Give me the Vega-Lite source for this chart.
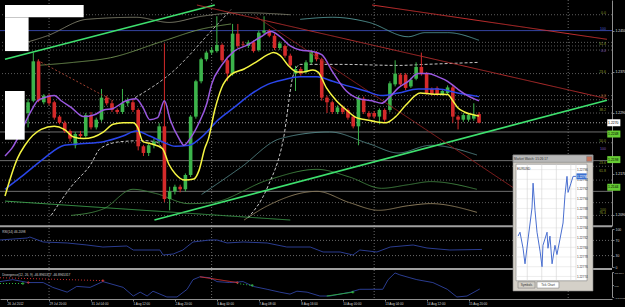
{
"$schema": "https://vega.github.io/schema/vega-lite/v6.json",
"width": 612, "height": 299,
"autosize": {"type": "none"},
"padding": {"left": 0, "top": 0, "right": 13, "bottom": 8},
"background": "#000000",
"config": {"view": {"stroke": null}, "axis": {"labelFont": "Liberation Sans", "grid": false}, "text": {"font": "Liberation Sans"}},
"datasets": {
"vsep": [{"i": 8}, {"i": 39}, {"i": 70}, {"i": 107}],
"hl": [
{"p": 1.2481, "kind": "dot"}, {"p": 1.2427, "kind": "dot"}, {"p": 1.2420, "kind": "dot"}, {"p": 1.2412, "kind": "dot"},
{"p": 1.2366, "kind": "dot"}, {"p": 1.2323, "kind": "dot"}, {"p": 1.2315, "kind": "dot"}, {"p": 1.2302, "kind": "dot"},
{"p": 1.2289, "kind": "dot"}, {"p": 1.2231, "kind": "dot"}, {"p": 1.2185, "kind": "dot"}, {"p": 1.2158, "kind": "dot"},
{"p": 1.2114, "kind": "dot"}, {"p": 1.2089, "kind": "dot"},
{"p": 1.2252, "kind": "solid"}, {"p": 1.2196, "kind": "solid"}, {"p": 1.2136, "kind": "solid"},
{"p": 1.2450, "kind": "blue"}, {"p": 1.2270, "kind": "cur"}],
"curves": [
{"k":"gu","i":-0.4,"p":1.2416},{"k":"gu","i":7.7,"p":1.2440},{"k":"gu","i":15.2,"p":1.2472},{"k":"gu","i":24.6,"p":1.2476},{"k":"gu","i":30.9,"p":1.2466},{"k":"gu","i":37.1,"p":1.2478},{"k":"gu","i":44.6,"p":1.2485},{"k":"gu","i":54.0,"p":1.2481},
{"k":"om","i":5.8,"p":1.2382},{"k":"om","i":12.7,"p":1.2388},{"k":"om","i":19.7,"p":1.2397},{"k":"om","i":29.6,"p":1.2429},{"k":"om","i":37.1,"p":1.2453},{"k":"om","i":42.7,"p":1.2463},
{"k":"tu","i":55.9,"p":1.2472},{"k":"tu","i":62.1,"p":1.2476},{"k":"tu","i":69.0,"p":1.2466},{"k":"tu","i":76.5,"p":1.2438},{"k":"tu","i":79.7,"p":1.2446},{"k":"tu","i":84.0,"p":1.2446},{"k":"tu","i":90.0,"p":1.2431},
{"k":"dg","i":12.2,"p":1.2089},{"k":"dg","i":18.4,"p":1.2102},{"k":"dg","i":24.0,"p":1.2140},{"k":"dg","i":28.3,"p":1.2132},{"k":"dg","i":34.7,"p":1.2112},{"k":"dg","i":39.0,"p":1.2114},{"k":"dg","i":49.7,"p":1.2158},{"k":"dg","i":59.1,"p":1.2179},{"k":"dg","i":65.3,"p":1.2164},{"k":"dg","i":71.4,"p":1.2142},{"k":"dg","i":76.5,"p":1.2149},{"k":"dg","i":80.8,"p":1.2155},{"k":"dg","i":89.6,"p":1.2140},
{"k":"tn","i":45.2,"p":1.2080},{"k":"tn","i":49.7,"p":1.2108},{"k":"tn","i":59.1,"p":1.2136},{"k":"tn","i":65.3,"p":1.2114},{"k":"tn","i":70.9,"p":1.2099},{"k":"tn","i":76.5,"p":1.2108},{"k":"tn","i":80.8,"p":1.2112},{"k":"tn","i":89.6,"p":1.2095},
{"k":"tl","i":37.1,"p":1.2130},{"k":"tl","i":44.6,"p":1.2183},{"k":"tl","i":52.1,"p":1.2239},{"k":"tl","i":61.5,"p":1.2252},{"k":"tl","i":69.0,"p":1.2229},{"k":"tl","i":74.6,"p":1.2211},{"k":"tl","i":80.8,"p":1.2226},{"k":"tl","i":89.6,"p":1.2207},
{"k":"d1","i":8.4,"p":1.2089},{"k":"d1","i":12.2,"p":1.2145},{"k":"d1","i":15.9,"p":1.2188},{"k":"d1","i":17.8,"p":1.2220},{"k":"d1","i":21.6,"p":1.2233},{"k":"d1","i":25.9,"p":1.2235},{"k":"d1","i":28.3,"p":1.2233},{"k":"d1","i":29.6,"p":1.2220},
{"k":"d2","i":24.4,"p":1.2319},{"k":"d2","i":31.5,"p":1.2369},{"k":"d2","i":39.0,"p":1.2450},{"k":"d2","i":42.7,"p":1.2491},
{"k":"d3","i":45.9,"p":1.2084},{"k":"d3","i":49.7,"p":1.2145},{"k":"d3","i":52.7,"p":1.2239},{"k":"d3","i":54.6,"p":1.2364},{"k":"d3","i":55.9,"p":1.2384},{"k":"d3","i":63.9,"p":1.2384},{"k":"d3","i":74.6,"p":1.2382},{"k":"d3","i":79.7,"p":1.2384},{"k":"d3","i":90.0,"p":1.2388}],
"candles": [
{"i":4,"o":1.2289,"h":1.2317,"l":1.2261,"c":1.2310},{"i":5,"o":1.2313,"h":1.2407,"l":1.2310,"c":1.2390},{"i":6,"o":1.2390,"h":1.2394,"l":1.2310,"c":1.2313},{"i":7,"o":1.2310,"h":1.2326,"l":1.2306,"c":1.2323},
{"i":8,"o":1.2323,"h":1.2326,"l":1.2304,"c":1.2308},{"i":9,"o":1.2310,"h":1.2313,"l":1.2276,"c":1.2280},{"i":10,"o":1.2282,"h":1.2285,"l":1.2267,"c":1.2270},{"i":11,"o":1.2270,"h":1.2274,"l":1.2250,"c":1.2254},
{"i":12,"o":1.2254,"h":1.2257,"l":1.2233,"c":1.2239},{"i":13,"o":1.2226,"h":1.2252,"l":1.2220,"c":1.2248},{"i":14,"o":1.2248,"h":1.2254,"l":1.2239,"c":1.2244},{"i":15,"o":1.2244,"h":1.2289,"l":1.2241,"c":1.2285},
{"i":16,"o":1.2285,"h":1.2291,"l":1.2257,"c":1.2261},{"i":17,"o":1.2261,"h":1.2280,"l":1.2257,"c":1.2276},{"i":18,"o":1.2276,"h":1.2336,"l":1.2272,"c":1.2319},{"i":19,"o":1.2319,"h":1.2323,"l":1.2304,"c":1.2308},
{"i":20,"o":1.2308,"h":1.2313,"l":1.2291,"c":1.2295},{"i":21,"o":1.2295,"h":1.2298,"l":1.2287,"c":1.2291},{"i":22,"o":1.2291,"h":1.2336,"l":1.2287,"c":1.2308},{"i":23,"o":1.2308,"h":1.2319,"l":1.2302,"c":1.2313},
{"i":24,"o":1.2310,"h":1.2317,"l":1.2291,"c":1.2295},{"i":25,"o":1.2295,"h":1.2298,"l":1.2216,"c":1.2224},{"i":26,"o":1.2224,"h":1.2227,"l":1.2205,"c":1.2211},{"i":27,"o":1.2211,"h":1.2229,"l":1.2205,"c":1.2226},
{"i":28,"o":1.2226,"h":1.2239,"l":1.2220,"c":1.2233},{"i":29,"o":1.2233,"h":1.2269,"l":1.2229,"c":1.2263},{"i":30,"o":1.2263,"h":1.2425,"l":1.2115,"c":1.2121},{"i":31,"o":1.2121,"h":1.2145,"l":1.2099,"c":1.2136},
{"i":32,"o":1.2136,"h":1.2149,"l":1.2130,"c":1.2145},{"i":33,"o":1.2145,"h":1.2149,"l":1.2134,"c":1.2140},{"i":34,"o":1.2140,"h":1.2171,"l":1.2136,"c":1.2168},{"i":35,"o":1.2168,"h":1.2285,"l":1.2164,"c":1.2282},
{"i":36,"o":1.2282,"h":1.2354,"l":1.2278,"c":1.2351},{"i":37,"o":1.2351,"h":1.2397,"l":1.2347,"c":1.2394},{"i":38,"o":1.2394,"h":1.2410,"l":1.2390,"c":1.2407},{"i":39,"o":1.2407,"h":1.2418,"l":1.2403,"c":1.2412},
{"i":40,"o":1.2410,"h":1.2478,"l":1.2407,"c":1.2422},{"i":41,"o":1.2422,"h":1.2425,"l":1.2388,"c":1.2392},{"i":42,"o":1.2392,"h":1.2395,"l":1.2351,"c":1.2366},{"i":43,"o":1.2366,"h":1.2463,"l":1.2362,"c":1.2444},
{"i":44,"o":1.2444,"h":1.2463,"l":1.2416,"c":1.2420},{"i":45,"o":1.2423,"h":1.2429,"l":1.2418,"c":1.2422},{"i":46,"o":1.2420,"h":1.2431,"l":1.2416,"c":1.2427},{"i":47,"o":1.2427,"h":1.2431,"l":1.2407,"c":1.2410},
{"i":48,"o":1.2412,"h":1.2450,"l":1.2409,"c":1.2446},{"i":49,"o":1.2446,"h":1.2478,"l":1.2442,"c":1.2450},{"i":50,"o":1.2450,"h":1.2453,"l":1.2437,"c":1.2440},{"i":51,"o":1.2440,"h":1.2444,"l":1.2412,"c":1.2416},
{"i":52,"o":1.2416,"h":1.2429,"l":1.2412,"c":1.2425},{"i":53,"o":1.2420,"h":1.2423,"l":1.2397,"c":1.2401},{"i":54,"o":1.2401,"h":1.2405,"l":1.2379,"c":1.2382},{"i":55,"o":1.2366,"h":1.2381,"l":1.2332,"c":1.2375},
{"i":56,"o":1.2375,"h":1.2379,"l":1.2362,"c":1.2366},{"i":57,"o":1.2369,"h":1.2392,"l":1.2366,"c":1.2388},{"i":58,"o":1.2388,"h":1.2412,"l":1.2384,"c":1.2409},{"i":59,"o":1.2407,"h":1.2410,"l":1.2390,"c":1.2394},
{"i":60,"o":1.2394,"h":1.2397,"l":1.2313,"c":1.2319},{"i":61,"o":1.2319,"h":1.2323,"l":1.2289,"c":1.2310},{"i":62,"o":1.2310,"h":1.2313,"l":1.2287,"c":1.2291},{"i":63,"o":1.2291,"h":1.2304,"l":1.2287,"c":1.2300},
{"i":64,"o":1.2300,"h":1.2304,"l":1.2287,"c":1.2291},{"i":65,"o":1.2295,"h":1.2298,"l":1.2276,"c":1.2280},{"i":66,"o":1.2282,"h":1.2285,"l":1.2259,"c":1.2263},{"i":67,"o":1.2263,"h":1.2323,"l":1.2226,"c":1.2319},
{"i":68,"o":1.2317,"h":1.2321,"l":1.2287,"c":1.2291},{"i":69,"o":1.2289,"h":1.2293,"l":1.2278,"c":1.2282},{"i":70,"o":1.2289,"h":1.2293,"l":1.2278,"c":1.2282},{"i":71,"o":1.2282,"h":1.2298,"l":1.2267,"c":1.2295},
{"i":72,"o":1.2295,"h":1.2298,"l":1.2272,"c":1.2276},{"i":73,"o":1.2295,"h":1.2351,"l":1.2291,"c":1.2347},{"i":74,"o":1.2345,"h":1.2392,"l":1.2341,"c":1.2366},{"i":75,"o":1.2364,"h":1.2367,"l":1.2341,"c":1.2345},
{"i":76,"o":1.2364,"h":1.2367,"l":1.2334,"c":1.2338},{"i":77,"o":1.2341,"h":1.2358,"l":1.2338,"c":1.2354},{"i":78,"o":1.2356,"h":1.2388,"l":1.2353,"c":1.2379},{"i":79,"o":1.2379,"h":1.2407,"l":1.2362,"c":1.2366},
{"i":80,"o":1.2366,"h":1.2369,"l":1.2325,"c":1.2328},{"i":81,"o":1.2336,"h":1.2339,"l":1.2323,"c":1.2326},{"i":82,"o":1.2338,"h":1.2341,"l":1.2323,"c":1.2326},{"i":83,"o":1.2326,"h":1.2336,"l":1.2323,"c":1.2332},
{"i":84,"o":1.2328,"h":1.2343,"l":1.2325,"c":1.2339},{"i":85,"o":1.2339,"h":1.2343,"l":1.2270,"c":1.2282},{"i":86,"o":1.2282,"h":1.2285,"l":1.2257,"c":1.2276},{"i":87,"o":1.2276,"h":1.2289,"l":1.2272,"c":1.2285},
{"i":88,"o":1.2276,"h":1.2289,"l":1.2272,"c":1.2285},{"i":89,"o":1.2278,"h":1.2308,"l":1.2274,"c":1.2285},{"i":90,"o":1.2287,"h":1.2291,"l":1.2269,"c":1.2270}],
"tl": [
{"k":"gU","i":-0.4,"p":1.2394},{"k":"gU","i":39.6,"p":1.2500},
{"k":"gL","i":28.1,"p":1.2080},{"k":"gL","i":114.4,"p":1.2314},
{"k":"gM","i":-0.4,"p":1.2117},{"k":"gM","i":54.0,"p":1.2080},
{"k":"rT","i":69.6,"p":1.2500},{"k":"rT","i":114.4,"p":1.2433},
{"k":"rM","i":36.2,"p":1.2500},{"k":"rM","i":114.4,"p":1.2317},
{"k":"rS","i":47.4,"p":1.2478},{"k":"rS","i":105.8,"p":1.2080},
{"k":"rD","i":5.8,"p":1.2392},{"k":"rD","i":20.2,"p":1.2313}],
"ma": [
{"k":"b","i":-0.4,"p":1.2140},{"k":"b","i":3.4,"p":1.2170},{"k":"b","i":7.1,"p":1.2201},{"k":"b","i":10.9,"p":1.2226},{"k":"b","i":14.0,"p":1.2229},{"k":"b","i":18.4,"p":1.2233},{"k":"b","i":22.1,"p":1.2244},{"k":"b","i":24.6,"p":1.2254},{"k":"b","i":27.2,"p":1.2244},{"k":"b","i":29.6,"p":1.2233},{"k":"b","i":32.1,"p":1.2224},{"k":"b","i":34.7,"p":1.2226},{"k":"b","i":37.1,"p":1.2242},{"k":"b","i":40.3,"p":1.2276},{"k":"b","i":43.3,"p":1.2300},{"k":"b","i":46.5,"p":1.2326},{"k":"b","i":49.7,"p":1.2345},{"k":"b","i":52.7,"p":1.2354},{"k":"b","i":55.9,"p":1.2360},{"k":"b","i":59.1,"p":1.2360},{"k":"b","i":62.1,"p":1.2351},{"k":"b","i":65.3,"p":1.2341},{"k":"b","i":68.4,"p":1.2332},{"k":"b","i":71.4,"p":1.2323},{"k":"b","i":74.6,"p":1.2328},{"k":"b","i":78.4,"p":1.2336},{"k":"b","i":82.1,"p":1.2336},{"k":"b","i":85.9,"p":1.2328},{"k":"b","i":90.0,"p":1.2321},
{"k":"v","i":-0.4,"p":1.2205},{"k":"v","i":0.9,"p":1.2220},{"k":"v","i":4.7,"p":1.2295},{"k":"v","i":5.8,"p":1.2313},{"k":"v","i":7.1,"p":1.2319},{"k":"v","i":9.0,"p":1.2323},{"k":"v","i":10.3,"p":1.2313},{"k":"v","i":12.2,"p":1.2300},{"k":"v","i":14.6,"p":1.2282},{"k":"v","i":16.5,"p":1.2285},{"k":"v","i":18.4,"p":1.2295},{"k":"v","i":20.2,"p":1.2298},{"k":"v","i":22.7,"p":1.2313},{"k":"v","i":24.6,"p":1.2317},{"k":"v","i":25.9,"p":1.2300},{"k":"v","i":27.2,"p":1.2276},{"k":"v","i":28.7,"p":1.2280},{"k":"v","i":30.0,"p":1.2313},{"k":"v","i":31.1,"p":1.2276},{"k":"v","i":32.8,"p":1.2239},{"k":"v","i":33.7,"p":1.2226},{"k":"v","i":34.9,"p":1.2239},{"k":"v","i":36.6,"p":1.2270},{"k":"v","i":38.1,"p":1.2308},{"k":"v","i":39.0,"p":1.2345},{"k":"v","i":40.9,"p":1.2382},{"k":"v","i":43.3,"p":1.2410},{"k":"v","i":45.9,"p":1.2422},{"k":"v","i":48.4,"p":1.2438},{"k":"v","i":50.3,"p":1.2448},{"k":"v","i":52.1,"p":1.2438},{"k":"v","i":54.0,"p":1.2420},{"k":"v","i":55.9,"p":1.2412},{"k":"v","i":58.3,"p":1.2409},{"k":"v","i":60.0,"p":1.2403},{"k":"v","i":62.1,"p":1.2369},{"k":"v","i":64.7,"p":1.2332},{"k":"v","i":67.1,"p":1.2317},{"k":"v","i":69.6,"p":1.2313},{"k":"v","i":71.4,"p":1.2308},{"k":"v","i":72.8,"p":1.2319},{"k":"v","i":74.6,"p":1.2338},{"k":"v","i":76.5,"p":1.2351},{"k":"v","i":78.4,"p":1.2366},{"k":"v","i":80.3,"p":1.2366},{"k":"v","i":82.1,"p":1.2360},{"k":"v","i":84.0,"p":1.2351},{"k":"v","i":85.9,"p":1.2336},{"k":"v","i":87.8,"p":1.2323},{"k":"v","i":90.0,"p":1.2313},
{"k":"y","i":-0.4,"p":1.2127},{"k":"y","i":2.0,"p":1.2201},{"k":"y","i":3.4,"p":1.2226},{"k":"y","i":6.5,"p":1.2257},{"k":"y","i":9.0,"p":1.2263},{"k":"y","i":10.9,"p":1.2257},{"k":"y","i":12.7,"p":1.2242},{"k":"y","i":14.6,"p":1.2239},{"k":"y","i":16.5,"p":1.2242},{"k":"y","i":18.4,"p":1.2252},{"k":"y","i":20.2,"p":1.2267},{"k":"y","i":22.1,"p":1.2270},{"k":"y","i":24.0,"p":1.2270},{"k":"y","i":24.9,"p":1.2261},{"k":"y","i":25.9,"p":1.2233},{"k":"y","i":27.4,"p":1.2229},{"k":"y","i":29.6,"p":1.2220},{"k":"y","i":30.9,"p":1.2188},{"k":"y","i":32.1,"p":1.2170},{"k":"y","i":33.9,"p":1.2158},{"k":"y","i":35.6,"p":1.2160},{"k":"y","i":36.6,"p":1.2177},{"k":"y","i":37.7,"p":1.2220},{"k":"y","i":38.4,"p":1.2239},{"k":"y","i":39.6,"p":1.2295},{"k":"y","i":40.9,"p":1.2338},{"k":"y","i":42.7,"p":1.2364},{"k":"y","i":45.2,"p":1.2375},{"k":"y","i":47.4,"p":1.2388},{"k":"y","i":49.7,"p":1.2403},{"k":"y","i":50.8,"p":1.2407},{"k":"y","i":52.1,"p":1.2401},{"k":"y","i":53.6,"p":1.2382},{"k":"y","i":55.3,"p":1.2369},{"k":"y","i":56.4,"p":1.2369},{"k":"y","i":58.3,"p":1.2373},{"k":"y","i":59.3,"p":1.2369},{"k":"y","i":60.9,"p":1.2338},{"k":"y","i":62.8,"p":1.2313},{"k":"y","i":64.7,"p":1.2295},{"k":"y","i":66.6,"p":1.2280},{"k":"y","i":68.4,"p":1.2276},{"k":"y","i":70.3,"p":1.2272},{"k":"y","i":72.2,"p":1.2270},{"k":"y","i":74.1,"p":1.2282},{"k":"y","i":76.0,"p":1.2304},{"k":"y","i":78.8,"p":1.2328},{"k":"y","i":80.8,"p":1.2326},{"k":"y","i":84.0,"p":1.2325},{"k":"y","i":85.0,"p":1.2313},{"k":"y","i":85.9,"p":1.2300},{"k":"y","i":87.2,"p":1.2291},{"k":"y","i":89.1,"p":1.2285},{"k":"y","i":90.0,"p":1.2283}],
"wbox": [{"i":-0.4,"i2":14.6,"p":1.2476,"p2":1.2500},{"i":-0.4,"i2":4.1,"p":1.2410,"p2":1.2476},{"i":-0.4,"i2":3.35,"p":1.2237,"p2":1.2332}],
"fl": [{"p":1.2481,"t":"0.0","g":"o"},{"p":1.2450,"t":"100","g":"b"},{"p":1.2420,"t":"61.8","g":"o"},{"p":1.2407,"t":"0.0","g":"v"},{"p":1.2366,"t":"23.6","g":"o"},{"p":1.2319,"t":"0.0","g":"r"},{"p":1.2291,"t":"38.2","g":"o"},{"p":1.2231,"t":"50.0","g":"o"},{"p":1.2214,"t":"100","g":"v"},{"p":1.2188,"t":"23.6","g":"o"},{"p":1.2171,"t":"61.8","g":"o"},{"p":1.2095,"t":"100","g":"o"},{"p":1.2089,"t":"76.4","g":"o"}],
"hlbox": [{"p":1.2270,"t":"1.2270","g":"w"},{"p":1.2248,"t":"1.2248","g":"g"},{"p":1.2198,"t":"1.2198","g":"g"},{"p":1.2144,"t":"1.2144","g":"g"}],
"rsi": [{"i":-0.4,"v":71.1},{"i":4.7,"v":76.3},{"i":5.2,"v":78.9},{"i":7.7,"v":65.8},{"i":12.2,"v":63.2},{"i":15.9,"v":57.9},{"i":18.9,"v":52.6},{"i":23.4,"v":55.3},{"i":24.6,"v":44.7},{"i":29.6,"v":44.7},{"i":30.2,"v":31.6},{"i":32.1,"v":34.2},{"i":33.9,"v":44.7},{"i":35.8,"v":65.8},{"i":39.0,"v":71.1},{"i":40.3,"v":71.1},{"i":42.2,"v":63.2},{"i":45.2,"v":65.8},{"i":49.7,"v":63.2},{"i":53.4,"v":52.6},{"i":57.8,"v":52.6},{"i":60.2,"v":39.5},{"i":63.4,"v":39.5},{"i":65.8,"v":31.6},{"i":67.1,"v":44.7},{"i":70.3,"v":39.5},{"i":72.8,"v":52.6},{"i":77.1,"v":57.9},{"i":79.7,"v":50.0},{"i":84.0,"v":44.7},{"i":90.0,"v":46.2}],
"dv": [{"i":-0.4,"v":43.7},{"i":2.0,"v":67.4},{"i":4.9,"v":31.9},{"i":7.7,"v":31.9},{"i":9.5,"v":-27.2},{"i":12.2,"v":-86.3},{"i":14.0,"v":-15.4},{"i":16.5,"v":-27.2},{"i":18.9,"v":43.7},{"i":20.8,"v":8.3},{"i":22.7,"v":-27.2},{"i":24.6,"v":-133.6},{"i":25.9,"v":-86.3},{"i":27.2,"v":-133.6},{"i":28.3,"v":-74.5},{"i":29.6,"v":-109.9},{"i":30.9,"v":-145.4},{"i":32.8,"v":-145.4},{"i":34.7,"v":-50.8},{"i":35.8,"v":67.4},{"i":37.1,"v":102.8},{"i":39.0,"v":91.0},{"i":40.3,"v":43.7},{"i":42.7,"v":31.9},{"i":45.2,"v":43.7},{"i":47.1,"v":-15.4},{"i":49.7,"v":-50.8},{"i":52.1,"v":-86.3},{"i":54.0,"v":-109.9},{"i":55.3,"v":-74.5},{"i":57.2,"v":-86.3},{"i":59.6,"v":-133.6},{"i":61.5,"v":-133.6},{"i":63.4,"v":-109.9},{"i":65.3,"v":-86.3},{"i":67.1,"v":-50.8},{"i":69.6,"v":-50.8},{"i":71.4,"v":-50.8},{"i":72.4,"v":67.4},{"i":73.7,"v":150.1},{"i":74.6,"v":126.5},{"i":76.5,"v":91.0},{"i":77.8,"v":67.4},{"i":80.8,"v":31.9},{"i":83.5,"v":-50.8},{"i":85.3,"v":-145.4},{"i":87.2,"v":-133.6},{"i":89.6,"v":-46.9}],
"dvseg": [{"k":"r1","i":-0.4,"v":91.0},{"k":"r1","i":18.9,"v":55.6},{"k":"r2","i":37.1,"v":102.8},{"k":"r2","i":44.1,"v":31.9},{"k":"g1","i":-0.4,"v":20.1},{"k":"g1","i":3.9,"v":20.1},{"k":"g2","i":44.1,"v":20.1},{"k":"g2","i":46.9,"v":-3.5},{"k":"g3","i":60.9,"v":-133.6},{"k":"g3","i":65.8,"v":-86.3}],
"dvmk": [{"k":"r","i":4.9,"v":31.9},{"k":"r","i":18.9,"v":55.6},{"k":"r","i":44.1,"v":31.9},{"k":"g","i":3.9,"v":20.1},{"k":"g","i":46.9,"v":-3.5},{"k":"g","i":65.8,"v":-86.3}],
"mwrect": [
{"part":"frame","t":-3.8,"t2":56.8,"q":1.22771,"q2":1.22799},
{"part":"title","t":-3.8,"t2":56.8,"q":1.227975,"q2":1.22799},
{"part":"close","t":52.0,"t2":56.0,"q":1.227977,"q2":1.227987},
{"part":"plot","t":-1.5,"t2":52.3,"q":1.227731,"q2":1.227971},
{"part":"tab1","t":0.0,"t2":12.9,"q":1.227716,"q2":1.227729},
{"part":"tab2","t":14.4,"t2":31.0,"q":1.227716,"q2":1.227729}],
"mwgrid": [{"q":1.22774,"s":"1.22774"},{"q":1.22776,"s":"1.22776"},{"q":1.22778,"s":"1.22778"},{"q":1.22780,"s":"1.22780"},{"q":1.22782,"s":"1.22782"},{"q":1.22784,"s":"1.22784"},{"q":1.22786,"s":"1.22786"},{"q":1.22788,"s":"1.22788"},{"q":1.22790,"s":"1.22790"},{"q":1.22792,"s":"1.22792"},{"q":1.22794,"s":"1.22794"},{"q":1.22796,"s":"1.22796"}],
"mwvgrid": [{"t":7},{"t":18},{"t":29},{"t":40},{"t":43.9}],
"ticks": [{"t":0.0,"q":1.227823},{"t":1.5,"q":1.227831},{"t":3.8,"q":1.227798},{"t":5.3,"q":1.227766},{"t":7.6,"q":1.227817},{"t":10.6,"q":1.227881},{"t":11.4,"q":1.227932},{"t":12.9,"q":1.227875},{"t":14.4,"q":1.227831},{"t":16.7,"q":1.227792},{"t":18.2,"q":1.22776},{"t":18.9,"q":1.227804},{"t":22.0,"q":1.227831},{"t":22.7,"q":1.227798},{"t":24.2,"q":1.227823},{"t":25.8,"q":1.227766},{"t":28.0,"q":1.227804},{"t":29.5,"q":1.227785},{"t":31.8,"q":1.227817},{"t":34.1,"q":1.22785},{"t":35.6,"q":1.227908},{"t":37.1,"q":1.227946},{"t":37.9,"q":1.227913},{"t":40.1,"q":1.227932},{"t":41.7,"q":1.227946},{"t":43.9,"q":1.227946}]
},
"resolve": {"scale": {"x": "independent", "y": "independent", "color": "independent", "strokeDash": "independent"}, "axis": {"x": "independent", "y": "independent"}},
"layer": [
{
"resolve": {"scale": {"color": "independent", "strokeDash": "independent"}},
"layer": [
{"data": {"name": "vsep"}, "mark": {"type": "rule", "color": "#6a6a6a", "strokeDash": [1, 2], "strokeWidth": 1},
 "encoding": {"x": {"field": "i", "type": "quantitative", "scale": {"domain": [-0.4, 114.4], "nice": false, "zero": false},
  "axis": {"orient": "bottom", "values": [0,4,8,12,16,20,24,28,32,36,40,44,48,52,56,60,64,68,72,76,80,84,88],
   "labelExpr": "['26 Jul 2012','27 Jul 08:00','29 Jul 20:00','30 Jul 12:00','31 Jul 04:00','31 Jul 20:00','1 Aug 12:00','2 Aug 04:00','2 Aug 20:00','3 Aug 12:00','6 Aug 00:00','6 Aug 16:00','7 Aug 08:00','8 Aug 00:00','8 Aug 16:00','9 Aug 08:00','10 Aug 00:00','10 Aug 16:00','13 Aug 04:00','13 Aug 20:00','14 Aug 12:00','15 Aug 04:00','15 Aug 20:00'][datum.value/4]",
   "labelAlign": "left", "labelFontSize": 3.1, "labelColor": "#d8d8d8", "labelPadding": 1, "tickSize": 2, "tickColor": "#808080", "domainColor": "#909090", "labelOverlap": false, "labelFlush": false, "labelBound": false, "title": null, "grid": false}}}},
{"data": {"name": "hl"}, "mark": {"type": "rule", "strokeWidth": 1},
 "encoding": {"y": {"field": "p", "type": "quantitative", "scale": {"domain": [1.20781, 1.25], "range": [226, 0], "nice": false, "zero": false},
  "axis": {"orient": "right", "values": [1.249,1.247,1.245,1.243,1.241,1.239,1.237,1.235,1.233,1.231,1.229,1.223,1.221,1.219,1.217,1.215,1.213,1.211,1.209], "format": ".4f",
   "labelFontSize": 3.4, "labelColor": "#e0e0e0", "labelPadding": 1, "tickSize": 2, "tickColor": "#808080", "domainColor": "#909090", "labelOverlap": false, "title": null, "grid": false}},
  "color": {"field": "kind", "type": "nominal", "scale": {"domain": ["dot","solid","blue","cur"], "range": ["#5c5c5c","#6e6e6e","#3444a0","#a0a0a0"]}, "legend": null},
  "strokeDash": {"field": "kind", "type": "nominal", "scale": {"domain": ["dot","solid","blue","cur"], "range": [[1,2],[1,0],[1,0],[1,2]]}, "legend": null}}},
{"data": {"name": "curves"}, "mark": {"type": "line", "strokeWidth": 1, "interpolate": "monotone", "clip": true},
 "encoding": {"x": {"field": "i", "type": "quantitative", "scale": {"domain": [-0.4, 114.4], "nice": false, "zero": false}},
  "y": {"field": "p", "type": "quantitative", "scale": {"domain": [1.20781, 1.25], "range": [226, 0], "nice": false, "zero": false}},
  "color": {"field": "k", "type": "nominal", "scale": {"domain": ["gu","om","tu","dg","tn","tl","d1","d2","d3"], "range": ["#7d7d6a","#6e8e50","#4f8f8f","#3f7f3f","#8a7a5a","#4f7f80","#c8c8c8","#b0b0b0","#c8c8c8"]}, "legend": null},
  "strokeDash": {"field": "k", "type": "nominal", "scale": {"domain": ["gu","om","tu","dg","tn","tl","d1","d2","d3"], "range": [[1,0],[1,0],[1,0],[1,0],[1,0],[1,0],[3,2],[3,2],[3,2]]}, "legend": null}}},
{"data": {"name": "candles"}, "mark": {"type": "rule", "strokeWidth": 1},
 "encoding": {"x": {"field": "i", "type": "quantitative", "scale": {"domain": [-0.4, 114.4], "nice": false, "zero": false}},
  "y": {"field": "l", "type": "quantitative", "scale": {"domain": [1.20781, 1.25], "range": [226, 0], "nice": false, "zero": false}},
  "y2": {"field": "h"},
  "color": {"condition": {"test": "datum.c >= datum.o", "value": "#3cb44b"}, "value": "#d42a2a"}}},
{"data": {"name": "candles"}, "mark": {"type": "bar", "size": 3.6, "orient": "vertical"},
 "encoding": {"x": {"field": "i", "type": "quantitative", "scale": {"domain": [-0.4, 114.4], "nice": false, "zero": false}},
  "y": {"field": "o", "type": "quantitative", "scale": {"domain": [1.20781, 1.25], "range": [226, 0], "nice": false, "zero": false}},
  "y2": {"field": "c"},
  "color": {"condition": {"test": "datum.c >= datum.o", "value": "#3cb44b"}, "value": "#d42a2a"}}},
{"data": {"name": "tl"}, "transform": [{"filter": "datum.k == 'gU' || datum.k == 'gL'"}], "mark": {"type": "line", "strokeWidth": 1.6, "color": "#3ee06e", "clip": true},
 "encoding": {"x": {"field": "i", "type": "quantitative", "scale": {"domain": [-0.4, 114.4], "nice": false, "zero": false}},
  "y": {"field": "p", "type": "quantitative", "scale": {"domain": [1.20781, 1.25], "range": [226, 0], "nice": false, "zero": false}},
  "detail": {"field": "k"}}},
{"data": {"name": "tl"}, "transform": [{"filter": "datum.k != 'gU' && datum.k != 'gL'"}], "mark": {"type": "line", "strokeWidth": 1, "clip": true},
 "encoding": {"x": {"field": "i", "type": "quantitative", "scale": {"domain": [-0.4, 114.4], "nice": false, "zero": false}},
  "y": {"field": "p", "type": "quantitative", "scale": {"domain": [1.20781, 1.25], "range": [226, 0], "nice": false, "zero": false}},
  "color": {"field": "k", "type": "nominal", "scale": {"domain": ["gM","rT","rM","rS","rD"], "range": ["#3a9a4a","#c83030","#b02c2c","#8c2020","#a04030"]}, "legend": null},
  "strokeDash": {"field": "k", "type": "nominal", "scale": {"domain": ["gM","rT","rM","rS","rD"], "range": [[1,0],[1,0],[1,0],[1,0],[2,2]]}, "legend": null}}},
{"data": {"name": "ma"}, "mark": {"type": "line", "strokeWidth": 1.5, "interpolate": "monotone", "clip": true},
 "encoding": {"x": {"field": "i", "type": "quantitative", "scale": {"domain": [-0.4, 114.4], "nice": false, "zero": false}},
  "y": {"field": "p", "type": "quantitative", "scale": {"domain": [1.20781, 1.25], "range": [226, 0], "nice": false, "zero": false}},
  "color": {"field": "k", "type": "nominal", "scale": {"domain": ["b","v","y"], "range": ["#2a46ea","#9a58e0","#f5f542"]}, "legend": null}}},
{"data": {"name": "wbox"}, "mark": {"type": "rect", "color": "#ffffff"},
 "encoding": {"x": {"field": "i", "type": "quantitative", "scale": {"domain": [-0.4, 114.4], "nice": false, "zero": false}}, "x2": {"field": "i2"},
  "y": {"field": "p", "type": "quantitative", "scale": {"domain": [1.20781, 1.25], "range": [226, 0], "nice": false, "zero": false}}, "y2": {"field": "p2"}}},
{"data": {"name": "fl"}, "mark": {"type": "text", "fontSize": 3.5, "align": "right", "baseline": "bottom"},
 "encoding": {"x": {"datum": 114.2, "type": "quantitative", "scale": {"domain": [-0.4, 114.4], "nice": false, "zero": false}},
  "y": {"field": "p", "type": "quantitative", "scale": {"domain": [1.20781, 1.25], "range": [226, 0], "nice": false, "zero": false}},
  "text": {"field": "t"},
  "color": {"field": "g", "type": "nominal", "scale": {"domain": ["o","b","v","r"], "range": ["#8c9a2c","#4a5ad8","#8a5ac0","#c87030"]}, "legend": null}}},
{"data": {"name": "hlbox"}, "mark": {"type": "bar", "orient": "horizontal", "size": 7},
 "encoding": {"x": {"datum": 114.45, "type": "quantitative", "scale": {"domain": [-0.4, 114.4], "nice": false, "zero": false}}, "x2": {"datum": 116.95},
  "y": {"field": "p", "type": "quantitative", "scale": {"domain": [1.20781, 1.25], "range": [226, 0], "nice": false, "zero": false}},
  "color": {"field": "g", "type": "nominal", "scale": {"domain": ["w","g"], "range": ["#ffffff","#66cc33"]}, "legend": null}}},
{"data": {"name": "hlbox"}, "mark": {"type": "text", "fontSize": 3.4, "align": "left", "baseline": "middle", "color": "#000000"},
 "encoding": {"x": {"datum": 114.6, "type": "quantitative", "scale": {"domain": [-0.4, 114.4], "nice": false, "zero": false}},
  "y": {"field": "p", "type": "quantitative", "scale": {"domain": [1.20781, 1.25], "range": [226, 0], "nice": false, "zero": false}},
  "text": {"field": "t"}}}
]},
{
"layer": [
{"data": {"values": [{"v": 70}, {"v": 30}]}, "mark": {"type": "rule", "color": "#6a6a6a", "strokeDash": [1, 2]},
 "encoding": {"y": {"field": "v", "type": "quantitative", "scale": {"domain": [0, 100], "range": [267, 229], "nice": false, "zero": false},
  "axis": {"orient": "right", "values": [0, 30, 70, 100], "labelFontSize": 3.4, "labelColor": "#d8d8d8", "labelPadding": 1, "tickSize": 2, "tickColor": "#808080", "domainColor": "#909090", "labelOverlap": false, "title": null, "grid": false}}}},
{"data": {"values": [{"v": 107}, {"v": -5}]}, "mark": {"type": "rule", "color": "#a0a0a0", "strokeWidth": 2},
 "encoding": {"y": {"field": "v", "type": "quantitative", "scale": {"domain": [0, 100], "range": [267, 229], "nice": false, "zero": false}}}},
{"data": {"name": "rsi"}, "mark": {"type": "line", "color": "#2a3c90", "strokeWidth": 1},
 "encoding": {"x": {"field": "i", "type": "quantitative", "scale": {"domain": [-0.4, 114.4], "nice": false, "zero": false}, "axis": null},
  "y": {"field": "v", "type": "quantitative", "scale": {"domain": [0, 100], "range": [267, 229], "nice": false, "zero": false}}}},
{"data": {"values": [{"s": "RSI(14) 46.2098"}]}, "mark": {"type": "text", "fontSize": 3.2, "align": "left", "baseline": "top", "color": "#d0d0d0", "dy": 1},
 "encoding": {"x": {"datum": 0, "type": "quantitative", "scale": {"domain": [-0.4, 114.4], "nice": false, "zero": false}, "axis": null},
  "y": {"datum": 100, "type": "quantitative", "scale": {"domain": [0, 100], "range": [267, 229], "nice": false, "zero": false}},
  "text": {"field": "s"}}}
]},
{
"resolve": {"scale": {"color": "independent", "strokeDash": "independent"}},
"layer": [
{"data": {"name": "dv"}, "mark": {"type": "line", "color": "#2a3c90", "strokeWidth": 1},
 "encoding": {"x": {"field": "i", "type": "quantitative", "scale": {"domain": [-0.4, 114.4], "nice": false, "zero": false}, "axis": null},
  "y": {"field": "v", "type": "quantitative", "scale": {"domain": [-145.6905, 161.7094], "range": [297, 272], "nice": false, "zero": false},
   "axis": {"orient": "right", "values": [-145.6905, 0, 161.7094], "labelExpr": "datum.value == 0 ? '0.00' : format(datum.value, '.4f')", "labelFontSize": 2.2, "labelColor": "#d8d8d8", "labelPadding": 0.5, "tickSize": 1.5, "tickColor": "#808080", "domainColor": "#909090", "labelOverlap": false, "title": null, "grid": false}}}},
{"data": {"name": "dvseg"}, "mark": {"type": "line", "strokeWidth": 1},
 "encoding": {"x": {"field": "i", "type": "quantitative", "scale": {"domain": [-0.4, 114.4], "nice": false, "zero": false}, "axis": null},
  "y": {"field": "v", "type": "quantitative", "scale": {"domain": [-145.6905, 161.7094], "range": [297, 272], "nice": false, "zero": false}},
  "color": {"field": "k", "type": "nominal", "scale": {"domain": ["r1","r2","g1","g2","g3"], "range": ["#d03030","#d03030","#30c040","#30c040","#30c040"]}, "legend": null},
  "strokeDash": {"field": "k", "type": "nominal", "scale": {"domain": ["r1","r2","g1","g2","g3"], "range": [[1,2],[1,0],[1,2],[1,2],[1,0]]}, "legend": null}}},
{"data": {"name": "dvmk"}, "mark": {"type": "point", "shape": "cross", "filled": true, "size": 8},
 "encoding": {"x": {"field": "i", "type": "quantitative", "scale": {"domain": [-0.4, 114.4], "nice": false, "zero": false}, "axis": null},
  "y": {"field": "v", "type": "quantitative", "scale": {"domain": [-145.6905, 161.7094], "range": [297, 272], "nice": false, "zero": false}},
  "color": {"field": "k", "type": "nominal", "scale": {"domain": ["r","g"], "range": ["#e03a3a","#3ad04a"]}, "legend": null}}},
{"data": {"values": [{"s": "Divergence(12, 26, 9) -46.8965317 -46.8965317"}]}, "mark": {"type": "text", "fontSize": 3.2, "align": "left", "baseline": "top", "color": "#d0d0d0", "dy": 1},
 "encoding": {"x": {"datum": 0, "type": "quantitative", "scale": {"domain": [-0.4, 114.4], "nice": false, "zero": false}, "axis": null},
  "y": {"datum": 161.7094, "type": "quantitative", "scale": {"domain": [-145.6905, 161.7094], "range": [297, 272], "nice": false, "zero": false}},
  "text": {"field": "s"}}}
]},
{
"resolve": {"scale": {"color": "independent"}},
"layer": [
{"data": {"name": "mwrect"}, "mark": {"type": "rect", "stroke": "#808080", "strokeWidth": 0.6},
 "encoding": {"x": {"field": "t", "type": "quantitative", "scale": {"domain": [-3.8, 56.8], "range": [513, 593], "nice": false, "zero": false}, "axis": null}, "x2": {"field": "t2"},
  "y": {"field": "q", "type": "quantitative", "scale": {"domain": [1.22771, 1.22799], "range": [296, 150], "nice": false, "zero": false}, "axis": null}, "y2": {"field": "q2"},
  "color": {"field": "part", "type": "nominal", "scale": {"domain": ["frame","title","close","plot","tab1","tab2"], "range": ["#d4d0c8","#b8b8b8","#c8735a","#ffffff","#d4d0c8","#ffffff"]}, "legend": null}}},
{"data": {"name": "mwgrid"}, "mark": {"type": "rule", "color": "#e2e2e2", "strokeWidth": 0.6},
 "encoding": {"x": {"datum": -1.5, "type": "quantitative", "scale": {"domain": [-3.8, 56.8], "range": [513, 593], "nice": false, "zero": false}, "axis": null}, "x2": {"datum": 43.9},
  "y": {"field": "q", "type": "quantitative", "scale": {"domain": [1.22771, 1.22799], "range": [296, 150], "nice": false, "zero": false}, "axis": null}}},
{"data": {"name": "mwvgrid"}, "mark": {"type": "rule", "color": "#d0d0d0", "strokeWidth": 0.6},
 "encoding": {"x": {"field": "t", "type": "quantitative", "scale": {"domain": [-3.8, 56.8], "range": [513, 593], "nice": false, "zero": false}, "axis": null},
  "y": {"datum": 1.227731, "type": "quantitative", "scale": {"domain": [1.22771, 1.22799], "range": [296, 150], "nice": false, "zero": false}, "axis": null}, "y2": {"datum": 1.227971}}},
{"data": {"name": "mwgrid"}, "mark": {"type": "text", "fontSize": 3, "align": "left", "baseline": "middle", "color": "#333333"},
 "encoding": {"x": {"datum": 44.6, "type": "quantitative", "scale": {"domain": [-3.8, 56.8], "range": [513, 593], "nice": false, "zero": false}, "axis": null},
  "y": {"field": "q", "type": "quantitative", "scale": {"domain": [1.22771, 1.22799], "range": [296, 150], "nice": false, "zero": false}, "axis": null},
  "text": {"field": "s"}}},
{"data": {"name": "ticks"}, "mark": {"type": "line", "color": "#4a6fd0", "strokeWidth": 1},
 "encoding": {"x": {"field": "t", "type": "quantitative", "scale": {"domain": [-3.8, 56.8], "range": [513, 593], "nice": false, "zero": false}, "axis": null},
  "y": {"field": "q", "type": "quantitative", "scale": {"domain": [1.22771, 1.22799], "range": [296, 150], "nice": false, "zero": false}, "axis": null}}},
{"data": {"values": [{"q": 1.227946, "s": "1.22795"}]}, "mark": {"type": "bar", "orient": "horizontal", "size": 6, "color": "#3a6fd0"},
 "encoding": {"x": {"datum": 44.3, "type": "quantitative", "scale": {"domain": [-3.8, 56.8], "range": [513, 593], "nice": false, "zero": false}, "axis": null}, "x2": {"datum": 52.0},
  "y": {"field": "q", "type": "quantitative", "scale": {"domain": [1.22771, 1.22799], "range": [296, 150], "nice": false, "zero": false}, "axis": null}}},
{"data": {"values": [{"q": 1.227946, "s": "1.22795"}]}, "mark": {"type": "text", "fontSize": 3, "align": "left", "baseline": "middle", "color": "#ffffff"},
 "encoding": {"x": {"datum": 44.6, "type": "quantitative", "scale": {"domain": [-3.8, 56.8], "range": [513, 593], "nice": false, "zero": false}, "axis": null},
  "y": {"field": "q", "type": "quantitative", "scale": {"domain": [1.22771, 1.22799], "range": [296, 150], "nice": false, "zero": false}, "axis": null},
  "text": {"field": "s"}}},
{"data": {"values": [{"t": -3.0, "q": 1.2279825, "s": "Market Watch: 15:26:17"}, {"t": -0.8, "q": 1.227962, "s": "EURUSD"}]}, "mark": {"type": "text", "fontSize": 3.2, "align": "left", "baseline": "middle", "color": "#303030"},
 "encoding": {"x": {"field": "t", "type": "quantitative", "scale": {"domain": [-3.8, 56.8], "range": [513, 593], "nice": false, "zero": false}, "axis": null},
  "y": {"field": "q", "type": "quantitative", "scale": {"domain": [1.22771, 1.22799], "range": [296, 150], "nice": false, "zero": false}, "axis": null},
  "text": {"field": "s"}}},
{"data": {"values": [{"t": 6.45, "q": 1.2277225, "s": "Symbols"}, {"t": 22.7, "q": 1.2277225, "s": "Tick Chart"}]}, "mark": {"type": "text", "fontSize": 3, "align": "center", "baseline": "middle", "color": "#303030"},
 "encoding": {"x": {"field": "t", "type": "quantitative", "scale": {"domain": [-3.8, 56.8], "range": [513, 593], "nice": false, "zero": false}, "axis": null},
  "y": {"field": "q", "type": "quantitative", "scale": {"domain": [1.22771, 1.22799], "range": [296, 150], "nice": false, "zero": false}, "axis": null},
  "text": {"field": "s"}}}
]}
]
}
